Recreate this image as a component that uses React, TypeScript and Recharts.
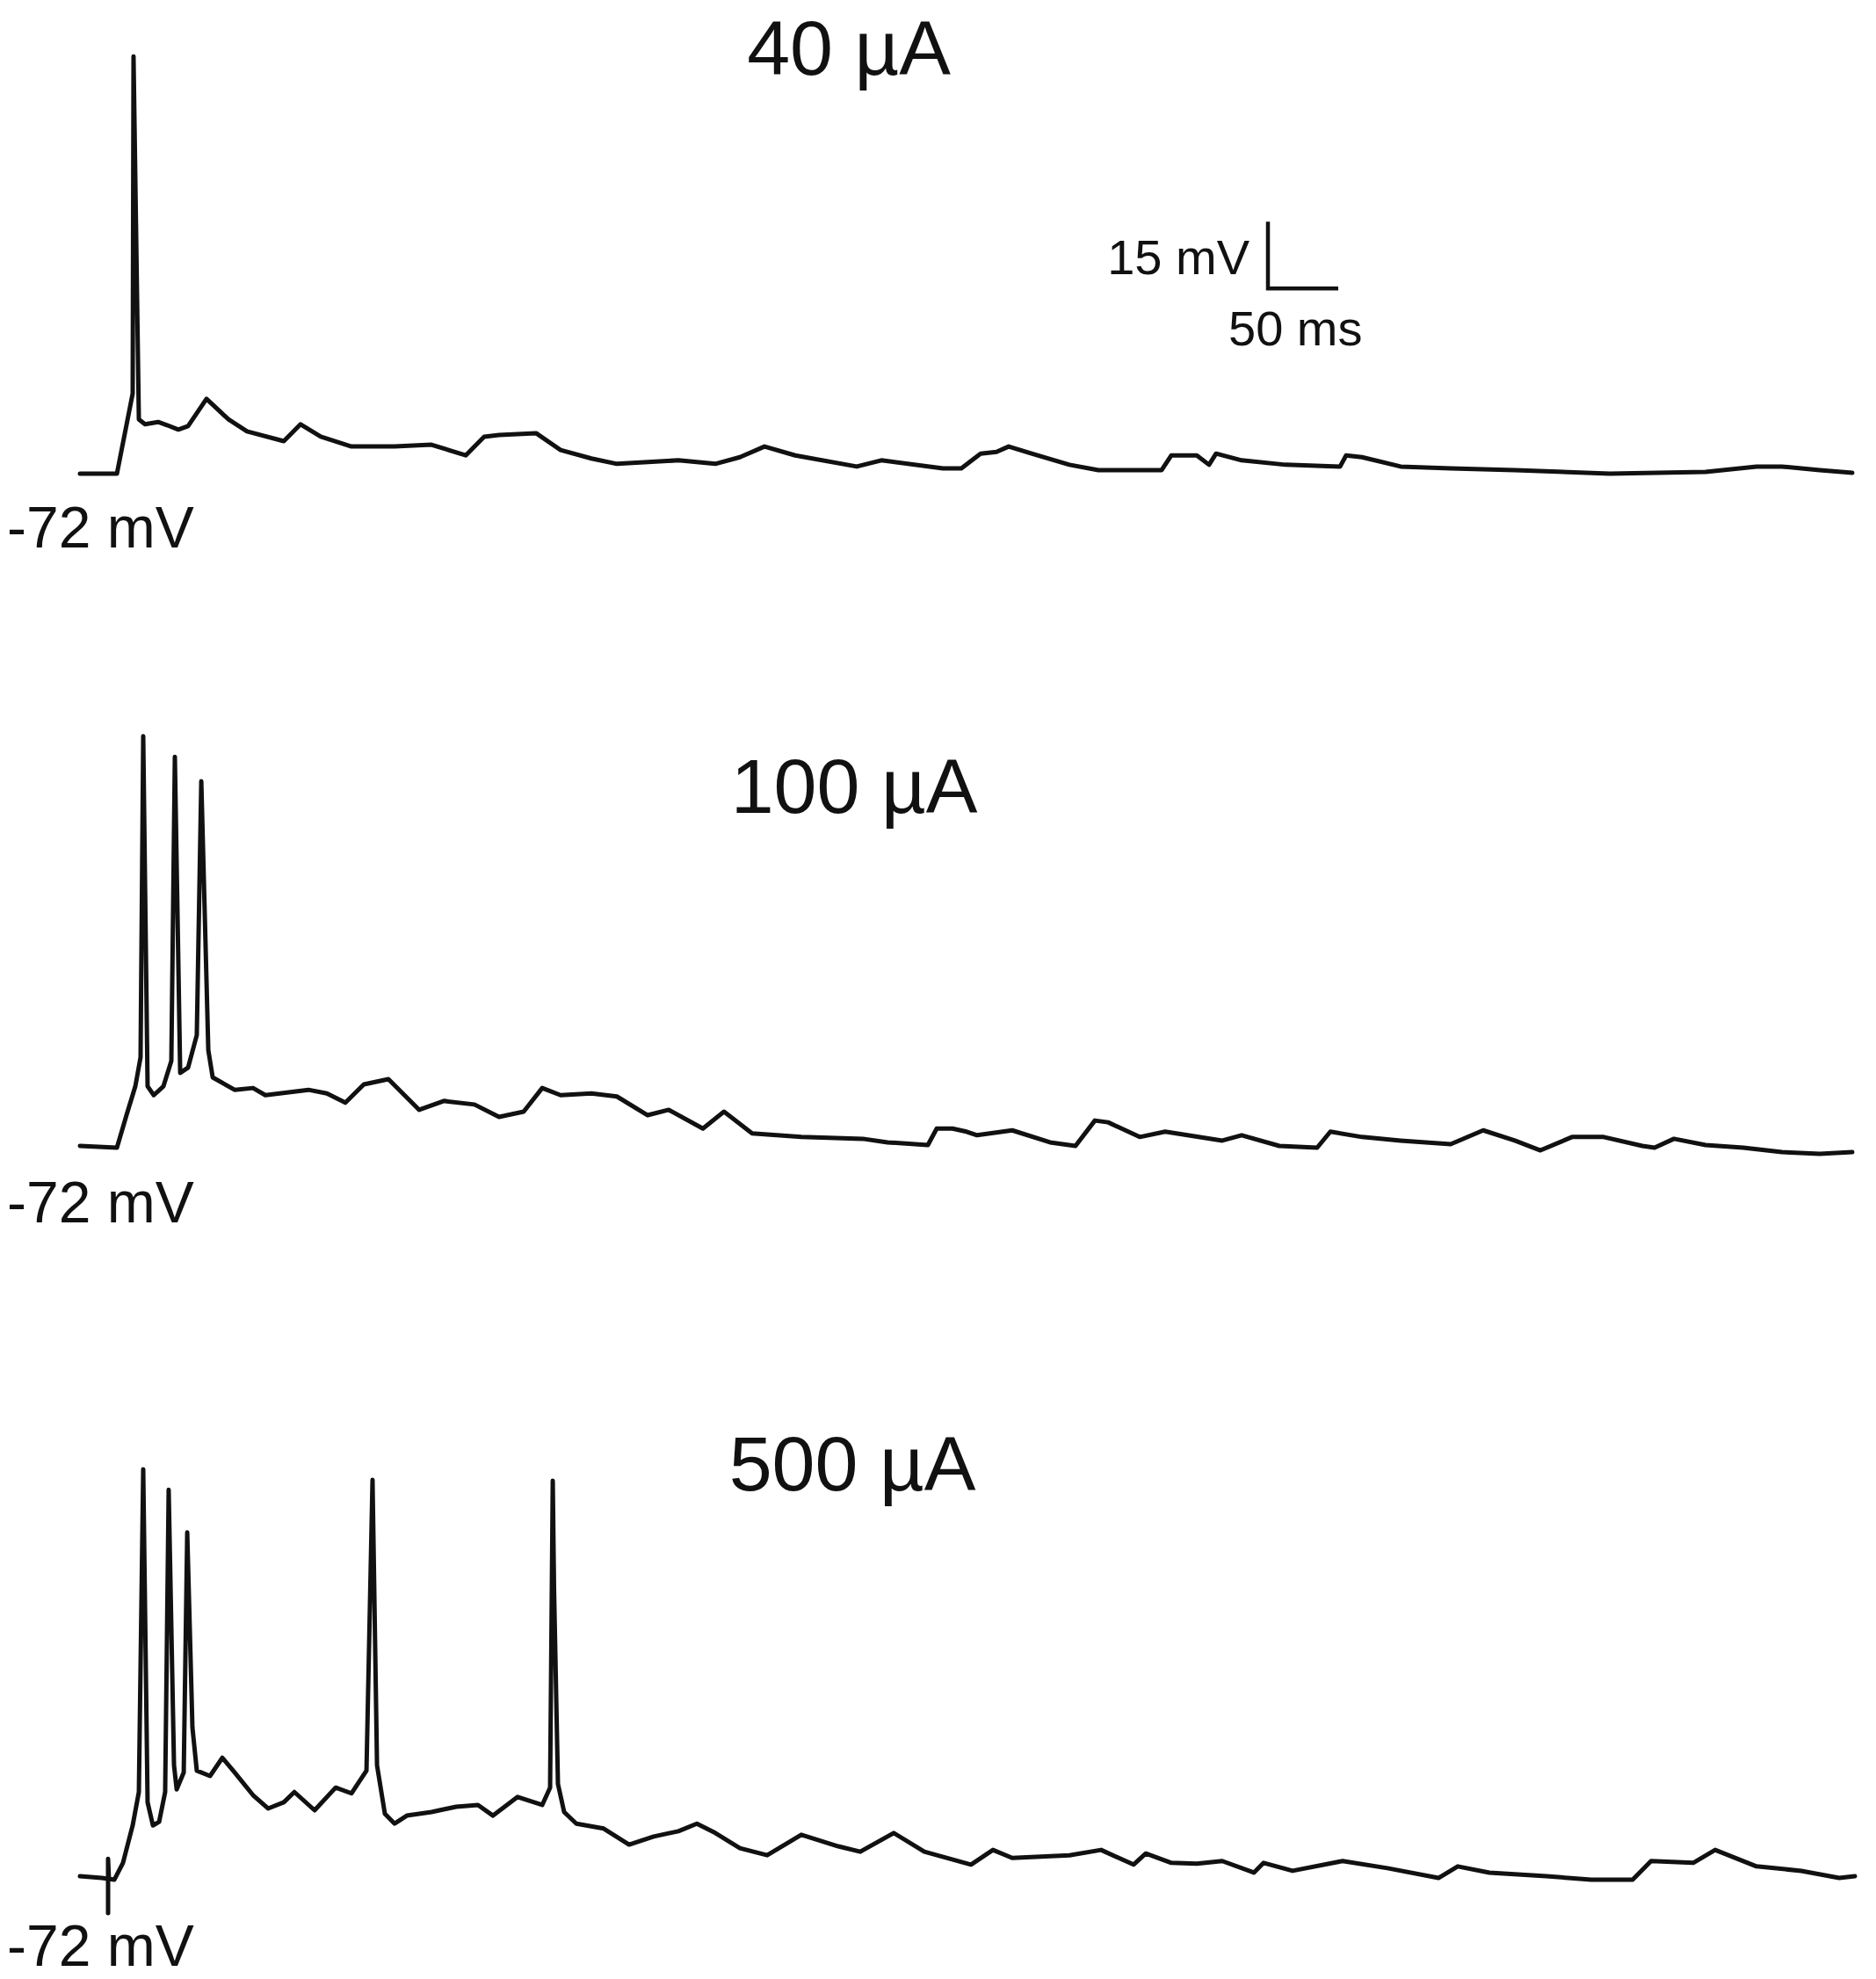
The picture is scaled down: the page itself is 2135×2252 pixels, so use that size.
import React from 'react';
import { LineChart, Line, XAxis, YAxis } from 'recharts';

// ---------- data (time in ms, membrane potential in mV) ----------
const t40 = [0, 26.3, 37.5, 38.1, 41.9, 46.3, 55.6, 61.9, 70.0, 76.9, 90.0, 105.6, 118.8, 145.0, 156.9, 171.3, 193.1, 223.8, 250.0, 274.4, 287.5, 298.1, 324.4, 341.9, 363.8, 381.9, 425.6, 451.9, 469.4, 486.9, 508.8, 552.5, 570.0, 613.8, 626.9, 640.6, 651.9, 660.6, 676.9, 703.8, 724.4, 769.4, 776.3, 794.4, 803.1, 808.1, 826.3, 857.5, 896.3, 900.6, 911.9, 939.4, 975.0, 1020.6, 1088.1, 1156.3, 1192.5, 1210.6, 1237.5, 1260.6];
const v40 = [-72, -72, -54.0, 21.7, -59.8, -60.9, -60.4, -61.1, -62.1, -61.3, -55.2, -59.8, -62.5, -64.7, -60.9, -63.7, -65.9, -65.9, -65.5, -67.9, -63.7, -63.3, -62.9, -66.7, -68.6, -69.8, -69.0, -69.8, -68.3, -65.9, -67.9, -70.4, -69.0, -70.8, -70.8, -67.5, -67.1, -65.9, -67.5, -70.0, -71.2, -71.2, -67.9, -67.9, -70.0, -67.5, -69.0, -70.0, -70.4, -67.9, -68.3, -70.4, -70.8, -71.2, -72.0, -71.6, -70.4, -70.4, -71.2, -71.8];

const t100 = [0, 26.3, 33.1, 39.4, 43.1, 45.0, 48.1, 52.5, 59.4, 65.0, 67.5, 71.3, 76.9, 83.1, 86.3, 91.3, 94.4, 110.0, 123.1, 131.9, 162.5, 175.6, 188.8, 201.9, 219.4, 241.3, 258.8, 280.6, 298.1, 315.6, 328.8, 341.9, 363.8, 381.9, 403.8, 418.8, 443.1, 458.1, 478.1, 513.1, 556.9, 574.4, 603.1, 609.4, 620.6, 630.6, 638.1, 663.1, 690.0, 708.1, 721.9, 731.3, 753.8, 771.9, 812.5, 826.3, 853.1, 880.0, 889.4, 911.9, 939.4, 975.0, 998.1, 1020.6, 1038.8, 1061.3, 1083.8, 1111.3, 1120.0, 1133.8, 1156.3, 1183.1, 1210.6, 1237.5, 1260.6];
const v100 = [-71.8, -72.2, -64.9, -58.4, -51.9, 20.2, -58.4, -60.4, -58.4, -52.7, 15.6, -55.4, -54.2, -46.9, 10.1, -50.3, -56.4, -59.2, -58.8, -60.4, -59.2, -60.0, -62.1, -58.0, -56.8, -63.7, -61.7, -62.5, -65.3, -64.1, -58.8, -60.4, -60.0, -60.7, -64.9, -63.7, -67.9, -64.1, -69.0, -69.8, -70.2, -71.0, -71.6, -67.9, -67.9, -68.6, -69.4, -68.3, -71.0, -71.8, -66.1, -66.5, -69.8, -68.6, -70.6, -69.4, -71.8, -72.2, -68.6, -69.8, -70.6, -71.4, -68.3, -70.6, -72.8, -69.8, -69.8, -71.8, -72.2, -70.2, -71.6, -72.2, -73.2, -73.6, -73.2];

const t500 = [0, 15.6, 20.0, 20.0, 20.0, 20.6, 24.4, 30.6, 37.5, 41.9, 45.0, 48.1, 51.9, 56.3, 60.6, 63.1, 66.9, 68.8, 73.8, 76.3, 80.0, 83.1, 92.5, 101.3, 110.0, 123.1, 133.8, 145.0, 152.5, 166.9, 181.9, 193.1, 203.8, 208.1, 211.3, 216.9, 223.8, 232.5, 250.0, 267.5, 283.1, 293.8, 311.3, 328.8, 334.4, 336.3, 337.2, 340.0, 344.4, 353.1, 372.5, 390.6, 408.1, 425.6, 438.8, 451.9, 469.4, 488.8, 513.1, 539.4, 555.0, 578.8, 600.6, 633.8, 649.4, 663.1, 703.8, 726.3, 749.4, 758.1, 776.3, 794.4, 812.5, 835.0, 841.9, 862.5, 898.1, 930.0, 966.3, 980.0, 1002.5, 1043.1, 1075.0, 1104.4, 1117.5, 1147.5, 1163.1, 1192.5, 1224.4, 1251.3, 1262.5];
const v500 = [-72, -72.4, -72.6, -80.3, -68.1, -72.6, -72.8, -69.0, -60.6, -53.1, 19.4, -55.4, -60.6, -59.8, -53.1, 14.8, -47.1, -52.5, -48.7, 5.2, -38.6, -48.3, -49.5, -45.4, -48.7, -53.8, -56.8, -55.4, -53.1, -57.2, -52.1, -53.4, -48.3, 17.0, -47.1, -58.0, -60.2, -58.4, -57.6, -56.4, -56.0, -58.4, -54.2, -56.0, -52.1, 16.8, -7.3, -51.3, -57.6, -60.2, -61.3, -64.9, -63.1, -61.9, -60.2, -62.3, -65.7, -67.3, -62.7, -65.3, -66.5, -62.3, -66.5, -69.4, -66.1, -67.9, -67.3, -66.1, -69.4, -66.9, -69.0, -69.2, -68.6, -71.2, -69.0, -70.8, -68.6, -70.2, -72.4, -69.8, -71.2, -72.0, -72.8, -72.8, -68.6, -69.0, -66.1, -69.8, -70.8, -72.4, -72.0];

const stimulusLabels = ['40 \u00B5A', '100 \u00B5A', '500 \u00B5A'];
const restLabel = '-72 mV';
const REST_MV = -72;
const SCALE_MV = 15;
const SCALE_MS = 50;
const scaleLabels = [`${SCALE_MV} mV`, `${SCALE_MS} ms`];
const scaleCorner = { t: 845, v: -30.4 };

// ---------- layout ----------
const W = 2135;
const H = 2252;
const PX_PER_MS = 1.6;
const PX_PER_MV = 76 / 15;
const X0 = 91; // pixel of t = 0
const BASES = [539, 1305, 2135]; // pixel rows of -72 mV, one per panel
const FONT = '"Liberation Sans", Arial, Helvetica, sans-serif';
const INK = '#111';

const xDomain: [number, number] = [-X0 / PX_PER_MS, (W - X0) / PX_PER_MS];
const yDomain = (base: number): [number, number] => {
  const top = REST_MV + base / PX_PER_MV;
  return [top - H / PX_PER_MV, top];
};
const rows = (t: number[], v: number[]) => t.map((x, i) => ({ t: x, v: v[i] }));

const traces = [rows(t40, v40), rows(t100, v100), rows(t500, v500)];
const scaleBar = [
  { t: scaleCorner.t + SCALE_MS, v: scaleCorner.v },
  { t: scaleCorner.t, v: scaleCorner.v },
  { t: scaleCorner.t, v: scaleCorner.v + SCALE_MV },
];

const titlePos = [
  { x: 966, y: 85 },
  { x: 972, y: 925 },
  { x: 970, y: 1696 },
];
const restLabelY = [623, 1391, 2237];

export default function App() {
  return (
    <div style={{ position: 'absolute', left: 0, top: 0, width: W, height: H, background: '#fff' }}>
      <div style={{ position: 'absolute', left: 0, top: 0 }}>
        <LineChart width={W} height={H} margin={{ top: 0, right: 0, bottom: 0, left: 0 }}>
          <XAxis type="number" dataKey="t" domain={xDomain} hide allowDataOverflow />
          {BASES.map((b, i) => (
            <YAxis key={i} yAxisId={`p${i}`} type="number" domain={yDomain(b)} hide allowDataOverflow />
          ))}
          {traces.map((d, i) => (
            <Line
              key={i}
              data={d}
              dataKey="v"
              yAxisId={`p${i}`}
              type="linear"
              dot={false}
              activeDot={false}
              stroke={INK}
              strokeWidth={5}
              strokeLinejoin="round"
              strokeLinecap="round"
              isAnimationActive={false}
            />
          ))}
          <Line
            data={scaleBar}
            dataKey="v"
            yAxisId="p0"
            type="linear"
            dot={false}
            activeDot={false}
            stroke={INK}
            strokeWidth={4.5}
            isAnimationActive={false}
          />
        </LineChart>
      </div>
      <svg width={W} height={H} style={{ position: 'absolute', left: 0, top: 0, pointerEvents: 'none' }}>
        <g fontFamily={FONT} fill={INK}>
          {stimulusLabels.map((s, i) => (
            <text key={s} x={titlePos[i].x} y={titlePos[i].y} fontSize={88} textAnchor="middle">
              {s}
            </text>
          ))}
          {restLabelY.map((y, i) => (
            <text key={i} x={8} y={y} fontSize={66}>
              {restLabel}
            </text>
          ))}
          <text x={1422} y={312} fontSize={56} textAnchor="end">
            {scaleLabels[0]}
          </text>
          <text x={1398} y={393} fontSize={56}>
            {scaleLabels[1]}
          </text>
        </g>
      </svg>
    </div>
  );
}
